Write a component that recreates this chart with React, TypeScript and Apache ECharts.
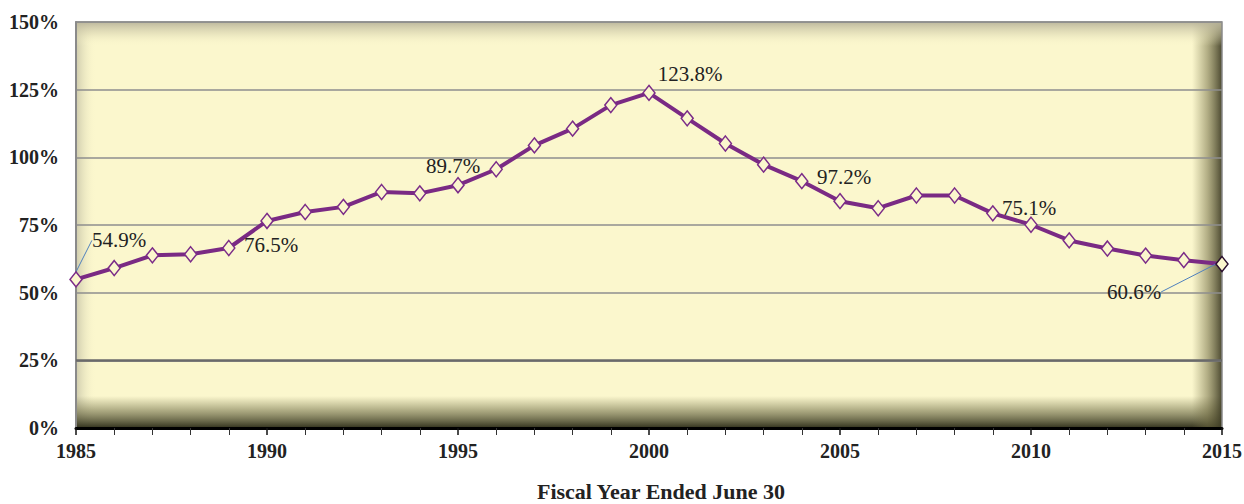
import React, { useEffect, useRef } from "react";
import * as echarts from "echarts";

const years = [1985, 1986, 1987, 1988, 1989, 1990, 1991, 1992, 1993, 1994, 1995, 1996, 1997, 1998, 1999, 2000, 2001, 2002, 2003, 2004, 2005, 2006, 2007, 2008, 2009, 2010, 2011, 2012, 2013, 2014, 2015];
const ratios = [54.9, 59.1, 63.8, 64.2, 66.5, 76.5, 79.8, 81.7, 87.2, 86.7, 89.7, 95.6, 104.4, 110.6, 119.3, 123.8, 114.4, 105.1, 97.3, 91.2, 83.8, 81.2, 85.9, 85.9, 79.3, 75.1, 69.3, 66.3, 63.7, 62.0, 60.6];
const annotationYears = [1985, 1990, 1995, 2000, 2005, 2010, 2015];
const annotationTexts = ["54.9%", "76.5%", "89.7%", "123.8%", "97.2%", "75.1%", "60.6%"];
const annotationOffsets = [[43, -39], [4, 24], [-5, -19], [41, -19], [4, -24], [-2, -17], [-88, 28]];
const leaderYears = [1985, 2015];
const yTicks = [0, 25, 50, 75, 100, 125, 150];
const xAxisTitle = "Fiscal Year Ended June 30";

const SERIF = "'Liberation Serif', 'Times New Roman', serif";
const GL = 76, GT = 22, GR = 1222, GB = 428;

export default function App() {
  const ref = useRef<HTMLDivElement>(null);
  useEffect(() => {
    if (!ref.current) return;
    const chart = echarts.init(ref.current, undefined, { renderer: "svg" });
    const data = years.map((y, i) => {
      const ai = annotationYears.indexOf(y);
      const item: any = { value: [y, ratios[i]] };
      if (ai >= 0) {
        item.label = {
          show: true,
          position: "inside",
          formatter: () => annotationTexts[ai],
        };
        if (leaderYears.indexOf(y) >= 0) {
          item.labelLine = { show: true, lineStyle: { color: "#4F81BD", width: 1 } };
        }
      }
      if (i === years.length - 1) {
        item.itemStyle = { borderColor: "#2A0E2E" };
      }
      return item;
    });
    const W = GR - GL, H = GB - GT;
    chart.setOption({
      animation: false,
      backgroundColor: "#ffffff",
      graphic: [
        { type: "rect", z: -20, silent: true, shape: { x: GL, y: GT, width: W, height: H }, style: { fill: "#FBF7CD" } },
        {
          type: "rect", z: -17, silent: true, shape: { x: GL, y: GT, width: W, height: 24 },
          style: { fill: new echarts.graphic.LinearGradient(0, 0, 0, 1, [
            { offset: 0, color: "rgba(185,180,155,0.95)" },
            { offset: 0.5, color: "rgba(215,210,175,0.5)" },
            { offset: 1, color: "rgba(251,247,205,0)" },
          ]) },
        },
        {
          type: "rect", z: -19, silent: true, shape: { x: GL, y: GT, width: 20, height: H },
          style: { fill: new echarts.graphic.LinearGradient(0, 0, 1, 0, [
            { offset: 0, color: "rgba(195,192,165,0.8)" },
            { offset: 1, color: "rgba(251,247,205,0)" },
          ]) },
        },
        {
          type: "rect", z: -18, silent: true, shape: { x: GL, y: GB - 32, width: W, height: 32 },
          style: { fill: new echarts.graphic.LinearGradient(0, 0, 0, 1, [
            { offset: 0, color: "rgba(120,118,80,0)" },
            { offset: 0.45, color: "rgba(110,108,70,0.55)" },
            { offset: 1, color: "rgba(45,45,25,0.98)" },
          ]) },
        },
        {
          type: "rect", z: -18, silent: true, shape: { x: GR - 30, y: GT, width: 30, height: H },
          style: { fill: new echarts.graphic.LinearGradient(0, 0, 1, 0, [
            { offset: 0, color: "rgba(120,115,75,0)" },
            { offset: 0.5, color: "rgba(110,105,65,0.5)" },
            { offset: 1, color: "rgba(60,58,35,0.92)" },
          ]) },
        },
      ],
      grid: {
        left: GL, right: 1244 - GR, top: GT, bottom: 504 - GB,
        show: true, backgroundColor: "transparent", borderColor: "#8a8a8a", borderWidth: 1.5,
        containLabel: false, outerBoundsMode: "none",
      },
      xAxis: {
        type: "value",
        min: years[0],
        max: years[years.length - 1],
        interval: 5,
        name: xAxisTitle,
        nameLocation: "middle",
        nameGap: 52,
        nameTextStyle: { fontFamily: SERIF, fontWeight: "bold", fontSize: 22, color: "#222", padding: [0, 0, 0, 24] },
        axisLine: { show: true, lineStyle: { color: "#000", width: 3 } },
        axisTick: { show: true, length: 7, lineStyle: { color: "#111", width: 1.5 } },
        minorTick: { show: true, splitNumber: 5, length: 7, lineStyle: { color: "#333", width: 1 } },
        splitLine: { show: false },
        axisLabel: { fontFamily: SERIF, fontWeight: "bold", fontSize: 20, color: "#222", margin: 13, formatter: (v: number) => String(v) },
      },
      yAxis: {
        type: "value",
        min: yTicks[0],
        max: yTicks[yTicks.length - 1],
        interval: 25,
        axisLine: { show: true, lineStyle: { color: "#8a8a8a", width: 2 } },
        axisTick: { show: false },
        splitLine: { show: true, lineStyle: { color: "#8e8e8e", width: 1.5 } },
        axisLabel: { fontFamily: SERIF, fontWeight: "bold", fontSize: 20, color: "#222", margin: 17, formatter: "{value}%" },
      },
      series: [
        {
          type: "line",
          data,
          symbol: "diamond",
          symbolSize: [12, 15],
          lineStyle: { color: "#7A2A84", width: 4 },
          itemStyle: { color: "#FBF7CD", borderColor: "#7B2C88", borderWidth: 1.5 },
          label: { show: false, fontFamily: SERIF, fontSize: 21, color: "#222" },
          labelLayout: (p: any) => {
            const ai = annotationYears.indexOf(years[p.dataIndex]);
            if (ai < 0) return {};
            return { dx: annotationOffsets[ai][0], dy: annotationOffsets[ai][1] };
          },
          markLine: {
            silent: true,
            symbol: "none",
            label: { show: false },
            lineStyle: { color: "#6a6a6a", width: 2.5, type: "solid" },
            data: [{ yAxis: yTicks[1] }],
          },
          z: 3,
        },
      ],
    });
    return () => chart.dispose();
  }, []);
  return <div ref={ref} style={{ position: "fixed", left: 0, top: 0, width: 1244, height: 504 }} />;
}
